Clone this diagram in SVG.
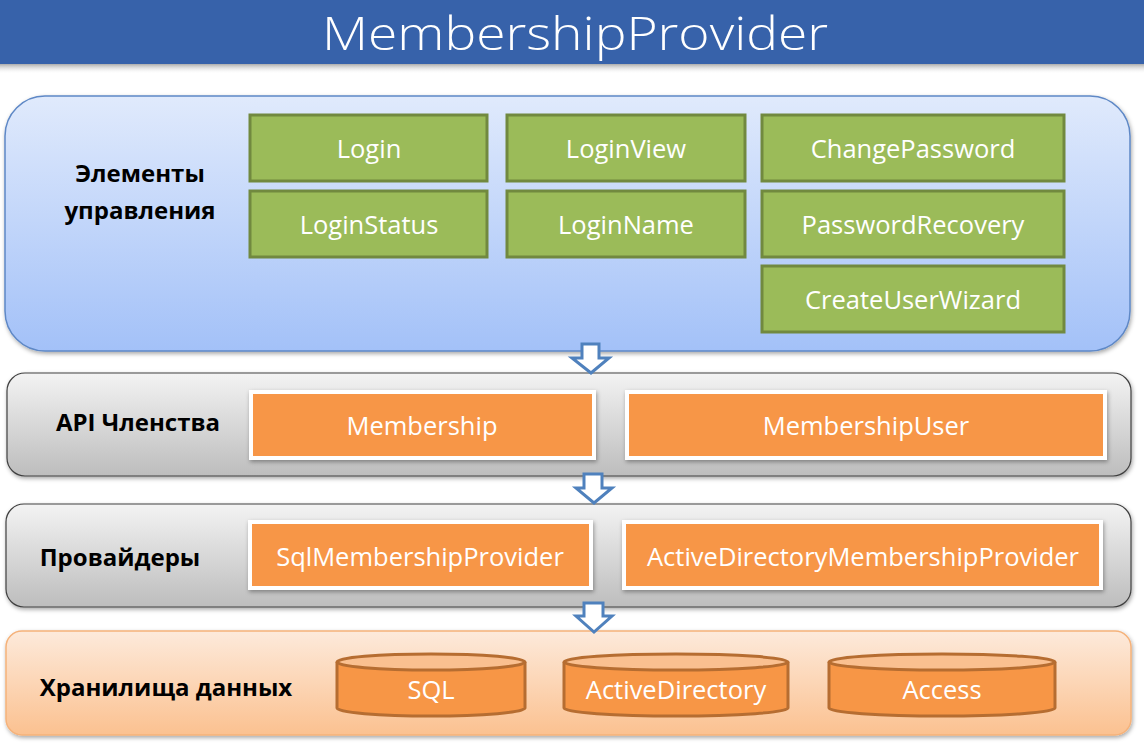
<svg xmlns="http://www.w3.org/2000/svg" width="1144" height="747" viewBox="0 0 1144 747">
<defs>
<linearGradient id="gBlue" x1="0" y1="0" x2="0" y2="1"><stop offset="0" stop-color="#E0EAFC"/><stop offset="1" stop-color="#A3C1F8"/></linearGradient>
<linearGradient id="gGray" x1="0" y1="0" x2="0" y2="1"><stop offset="0" stop-color="#F3F3F3"/><stop offset="1" stop-color="#BDBDBD"/></linearGradient>
<linearGradient id="gPeach" x1="0" y1="0" x2="0" y2="1"><stop offset="0" stop-color="#FDEADB"/><stop offset="1" stop-color="#FBC190"/></linearGradient>
<linearGradient id="gShadow" x1="0" y1="0" x2="0" y2="1"><stop offset="0" stop-color="#888" stop-opacity="0.7"/><stop offset="1" stop-color="#fff" stop-opacity="0"/></linearGradient>
<filter id="sh" x="-5%" y="-10%" width="110%" height="130%"><feDropShadow dx="1" dy="2" stdDeviation="2" flood-color="#000" flood-opacity="0.35"/></filter>
</defs>
<style>
.t{font-family:"Open Sans","Liberation Sans",sans-serif;font-size:25.5px;fill:#fff;text-anchor:middle;dominant-baseline:central}
.lb{font-family:"Open Sans","Liberation Sans",sans-serif;font-size:24px;font-weight:bold;fill:#000;text-anchor:middle;dominant-baseline:central}
.g{fill:#9BBB59;stroke:#71893F;stroke-width:3}
.o{fill:#F79646;stroke:#fff;stroke-width:4}
.cyl{fill:#F79646;stroke:#B66D31;stroke-width:3}
.cylt{fill:#FAC090;stroke:#B66D31;stroke-width:3}
.arr{fill:#fff;stroke:#4F81BD;stroke-width:3;stroke-linejoin:miter}
</style>
<rect x="0" y="64" width="1144" height="10" fill="url(#gShadow)"/>
<rect x="0" y="0" width="1144" height="64" fill="#3762AA"/>
<text x="575" y="50" font-family="'Open Sans','Liberation Sans',sans-serif" font-weight="300" font-size="46.5" fill="#fff" text-anchor="middle" textLength="506" lengthAdjust="spacingAndGlyphs">MembershipProvider</text>

<g id="layer-controls">
<rect x="5" y="96" width="1125" height="255" rx="40" fill="url(#gBlue)" stroke="#5E88C6" stroke-width="1.5" filter="url(#sh)"/>
<text class="lb" x="140" y="172">Элементы</text>
<text class="lb" x="140" y="209">управления</text>
</g>
<g id="n-login"><rect class="g" x="250" y="115" width="237" height="66"/><text class="t" x="369" y="148">Login</text></g>
<g id="n-loginview"><rect class="g" x="507" y="115" width="238" height="66"/><text class="t" x="626" y="148">LoginView</text></g>
<g id="n-changepassword"><rect class="g" x="762" y="115" width="302" height="66"/><text class="t" x="913" y="148">ChangePassword</text></g>
<g id="n-loginstatus"><rect class="g" x="250" y="191" width="237" height="66"/><text class="t" x="369" y="224">LoginStatus</text></g>
<g id="n-loginname"><rect class="g" x="507" y="191" width="238" height="66"/><text class="t" x="626" y="224">LoginName</text></g>
<g id="n-passwordrecovery"><rect class="g" x="762" y="191" width="302" height="66"/><text class="t" x="913" y="224">PasswordRecovery</text></g>
<g id="n-createuserwizard"><rect class="g" x="762" y="266" width="302" height="66"/><text class="t" x="913" y="299">CreateUserWizard</text></g>

<g id="layer-api">
<rect x="7" y="373" width="1124" height="103" rx="18" fill="url(#gGray)" stroke="#404040" stroke-width="1.2" filter="url(#sh)"/>
<text class="lb" x="138" y="421">API Членства</text>
</g>
<g id="n-membership"><rect class="o" x="251" y="392" width="343" height="66" filter="url(#sh)"/><text class="t" x="422" y="425">Membership</text></g>
<g id="n-membershipuser"><rect class="o" x="627" y="392" width="478" height="66" filter="url(#sh)"/><text class="t" x="866" y="425">MembershipUser</text></g>

<g id="layer-providers">
<rect x="6" y="504" width="1125" height="103" rx="18" fill="url(#gGray)" stroke="#404040" stroke-width="1.2" filter="url(#sh)"/>
<text class="lb" x="120" y="556">Провайдеры</text>
</g>
<g id="n-sqlprovider"><rect class="o" x="250" y="522" width="341" height="66" filter="url(#sh)"/><text class="t" x="420" y="556">SqlMembershipProvider</text></g>
<g id="n-adprovider"><rect class="o" x="624" y="522" width="477" height="66" filter="url(#sh)"/><text class="t" x="863" y="556">ActiveDirectoryMembershipProvider</text></g>

<g id="layer-storage">
<rect x="6" y="631" width="1125" height="104" rx="16" fill="url(#gPeach)" stroke="#F5B27A" stroke-width="1.5" filter="url(#sh)"/>
<text class="lb" x="166" y="686">Хранилища данных</text>
</g>
<g id="n-sql"><path class="cyl" d="M337,662 V708 A94,8 0 0 0 525,708 V662"/><ellipse class="cylt" cx="431" cy="662" rx="94" ry="8"/><text class="t" x="431" y="689">SQL</text></g>
<g id="n-ad"><path class="cyl" d="M564,662 V708 A112,8 0 0 0 788,708 V662"/><ellipse class="cylt" cx="676" cy="662" rx="112" ry="8"/><text class="t" x="676" y="689">ActiveDirectory</text></g>
<g id="n-access"><path class="cyl" d="M829,662 V708 A113,8 0 0 0 1055,708 V662"/><ellipse class="cylt" cx="942" cy="662" rx="113" ry="8"/><text class="t" x="942" y="689">Access</text></g>

<g id="connectors">
<path class="arr" d="M582,344 H599 V358 H609 L591,373 L572,358 H582 Z"/>
<path class="arr" d="M584,474 H602 V488 H612 L594,503 L576,488 H584 Z"/>
<path class="arr" d="M584,603 H603 V616 H612 L594,632 L576,616 H584 Z"/>
</g>
</svg>
